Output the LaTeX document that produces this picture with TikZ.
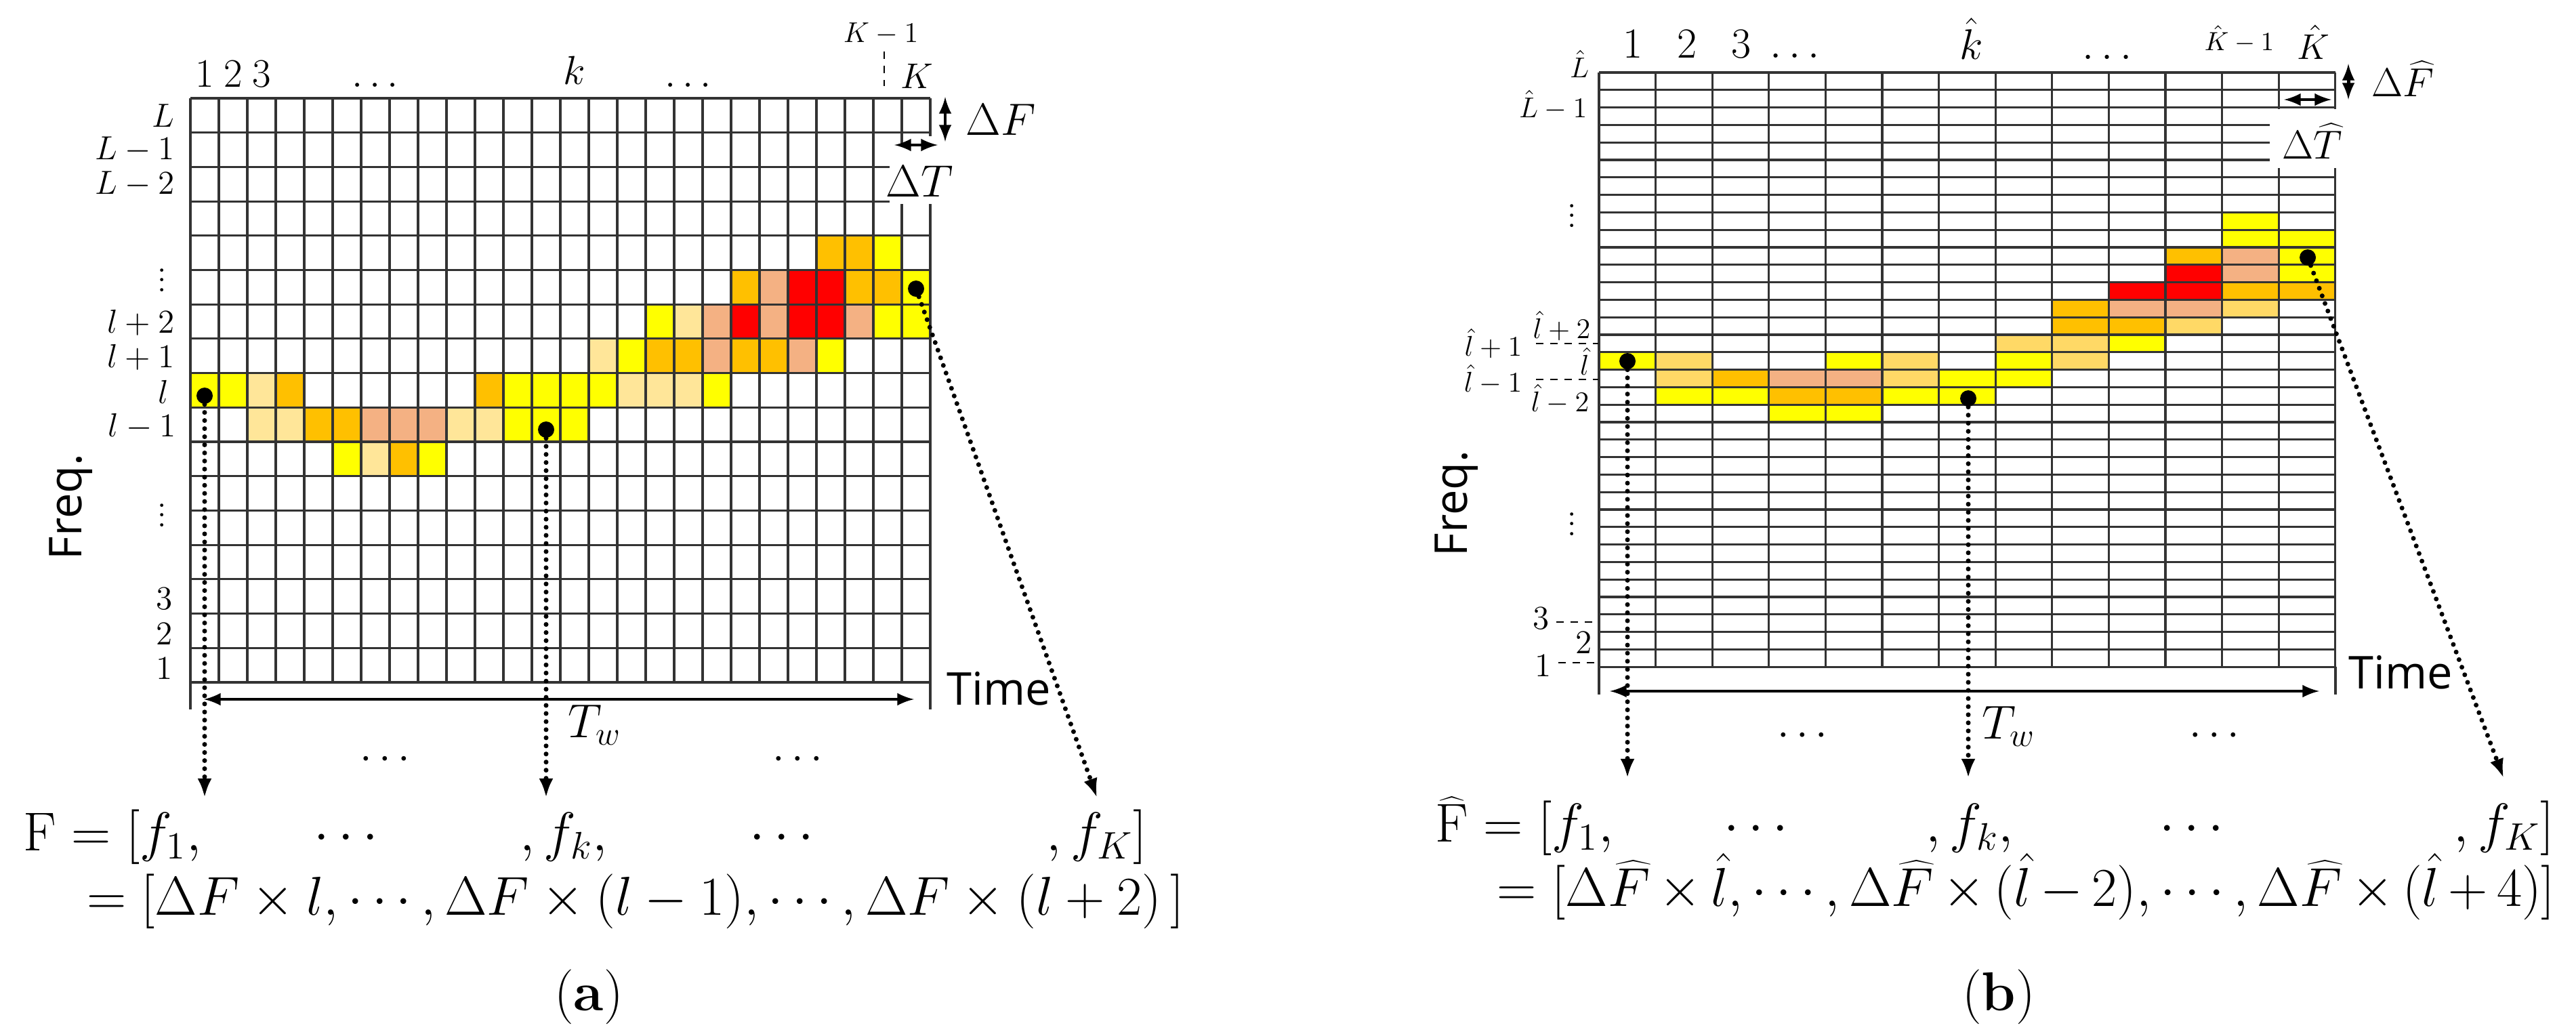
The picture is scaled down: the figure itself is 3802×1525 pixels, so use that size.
\IfFileExists{fix-cm.sty}{\RequirePackage{fix-cm}}{}
\documentclass[tikz,border=0pt]{standalone}
\usepackage{fontspec}
\newfontfamily\sansf{Open Sans}
\usetikzlibrary{positioning,arrows.meta}

\definecolor{cellY}{HTML}{FFFF00}
\definecolor{cellO}{HTML}{FFC000}
\definecolor{cellS}{HTML}{F4B183}
\definecolor{cellR}{HTML}{FF0000}
\definecolor{cellL}{HTML}{FFE699}
\definecolor{cellM}{HTML}{FFD966}

\tikzset{
	gridline/.style={line width=0.9pt, draw=black!80},
	dotnode/.style={circle, fill=black, inner sep=0pt, minimum size=2.4mm},
	dotarrow/.style={-{Latex[length=8pt,width=6pt]}, line width=2pt, line cap=round, dash pattern=on 0pt off 3.4pt},
	dimarrow/.style={latex-latex, line width=1.4pt},
	leader/.style={dashed, line width=0.8pt},
	toplab/.style={inner sep=0pt, anchor=base, font=\fontsize{17}{20}\selectfont},
	rowlab/.style={inner sep=0pt, anchor=east, font=\fontsize{14}{16}\selectfont},
	hrowlab/.style={inner sep=0pt, anchor=east, font=\fontsize{12}{14}\selectfont},
	axislab/.style={inner sep=0pt, font=\sansf\fontsize{19}{22}\selectfont},
	eqlab/.style={inner sep=0pt, anchor=base, font=\fontsize{23}{27}\selectfont},
}

\begin{document}
\begin{tikzpicture}[x=0.1mm, y=-0.1mm]
		\useasboundingbox (0,0) rectangle (3802,1525);
		
		%Colored cells (a)
		\foreach \cx/\ry/\clr in {23/5/cellO, 24/5/cellO, 25/5/cellY,
			20/6/cellO, 21/6/cellS, 22/6/cellR, 23/6/cellR, 24/6/cellO, 25/6/cellO, 26/6/cellY,
			17/7/cellY, 18/7/cellL, 19/7/cellS, 20/7/cellR, 21/7/cellS, 22/7/cellR, 23/7/cellR, 24/7/cellS, 25/7/cellY, 26/7/cellY,
			15/8/cellL, 16/8/cellY, 17/8/cellO, 18/8/cellO, 19/8/cellS, 20/8/cellO, 21/8/cellO, 22/8/cellS, 23/8/cellY,
			1/9/cellY, 2/9/cellY, 3/9/cellL, 4/9/cellO, 11/9/cellO, 12/9/cellY, 13/9/cellY, 14/9/cellY, 15/9/cellY, 16/9/cellL, 17/9/cellL, 18/9/cellL, 19/9/cellY,
			3/10/cellL, 4/10/cellL, 5/10/cellO, 6/10/cellO, 7/10/cellS, 8/10/cellS, 9/10/cellS, 10/10/cellL, 11/10/cellL, 12/10/cellY, 13/10/cellY, 14/10/cellY,
			6/11/cellY, 7/11/cellL, 8/11/cellO, 9/11/cellY}
		\fill[\clr] ({281+42*(\cx-1)},{145+50.7*(\ry-1)}) rectangle ++(42,50.7);
		
		%Grid (a)
		\foreach \i in {0,...,26}
		\draw[gridline] ({281+42*\i},145) -- ({281+42*\i},1007);
		\foreach \j in {0,...,17}
		\draw[gridline] (281,{145+50.7*\j}) -- (1373,{145+50.7*\j});
		\fill[white] (1313,201) rectangle (1390,301);
		\draw[gridline] (1331,198) -- (1331,214);
		\draw[gridline] (281,1007) -- (281,1047);
		\draw[gridline] (1373,1007) -- (1373,1047);
		
		%Top and row labels (a)
		\node[toplab] (ca1) at (302,128) {1};
		\node[toplab] (ca2) at (344,128) {2};
		\node[toplab] (ca3) at (386,128) {3};
		\node[toplab] (cadots1) at (554,128) {$\ldots$};
		\node[toplab] (cak) at (848,124) {$k$};
		\node[toplab] (cadots2) at (1016,128) {$\ldots$};
		\node[toplab, font=\fontsize{12}{14}\selectfont] (caKm1) at (1300,62) {$K-1$};
		\node[toplab, font=\fontsize{15}{18}\selectfont] (caK) at (1353,130) {$K$};
		\coordinate (caKm1-g) at (1305,127);
		\draw[leader, shorten <=1mm] (caKm1.south -| caKm1-g) -- (caKm1-g);
		
		\node[rowlab] (raL) at (258,171) {$L$};
		\node[rowlab] (raLm1) at (258,221) {$L-1$};
		\node[rowlab] (raLm2) at (258,272) {$L-2$};
		\node[rowlab, anchor=center] (radots1) at (239,403) {$\vdots$};
		\node[rowlab] (ralp2) at (258,476) {$l+2$};
		\node[rowlab] (ralp1) at (258,527) {$l+1$};
		\node[rowlab] (ral) at (250,578) {$l$};
		\node[rowlab] (ralm1) at (260,629) {$l-1$};
		\node[rowlab, anchor=center] (radots2) at (239,750) {$\vdots$};
		\node[rowlab] (ra3) at (255,884) {3};
		\node[rowlab] (ra2) at (255,935) {2};
		\node[rowlab] (ra1) at (255,986) {1};
		
		%Cell size (a)
		\node[anchor=west, inner sep=0pt, font=\fontsize{19}{22}\selectfont] (dFa) at (1425,177) {$\Delta F$};
		\coordinate (dFa-t) at (1395,143);
		\coordinate (dFa-b) at (1395,209);
		\draw[dimarrow] (dFa-t) -- (dFa-b);
		\node[inner sep=0pt, font=\fontsize{19}{22}\selectfont] (dTa) at (1357,268) {$\Delta T$};
		\coordinate (dTa-l) at (1320,214);
		\coordinate (dTa-r) at (1384,214);
		\draw[dimarrow] (dTa-l) -- (dTa-r);
		
		%Axes (a)
		\node[axislab, rotate=90] (freqa) at (105,748) {Freq.};
		\node[axislab, anchor=west] (timea) at (1397,1016) {Time};
		\coordinate (twa-l) at (301,1032);
		\coordinate (twa-r) at (1349,1032);
		\draw[dimarrow] (twa-l) -- (twa-r);
		\node[anchor=north west, inner sep=0pt, font=\fontsize{20}{24}\selectfont] (twa) at (838,1040) {$T_w$};
		\node[font=\fontsize{18}{20}\selectfont] (ba-dots1) at (568,1121) {$\cdots$};
		\node[font=\fontsize{18}{20}\selectfont] (ba-dots2) at (1177,1121) {$\cdots$};
		
		%Peaks (a)
		\node[dotnode] (fa1) at (302,584) {};
		\node[dotnode] (fa2) at (806,634) {};
		\node[dotnode] (fa3) at (1352,426) {};
		\coordinate (ea1) at (302,1177);
		\coordinate (ea2) at (806,1177);
		\coordinate (ea3) at (1619,1177);
		\draw[dotarrow] (fa1) -- (ea1);
		\draw[dotarrow] (fa2) -- (ea2);
		\draw[dotarrow] (fa3) -- (ea3);
		
		%Frequency vector (a)
		\node[eqlab, anchor=base west] (Fa) at (34,1255) {$\mathrm{F}=[f_1,$};
		\node[eqlab] (Fa-d1) at (511,1255) {$\cdots$};
		\node[eqlab] (Fa-k) at (832,1255) {$,f_k,$};
		\node[eqlab] (Fa-d2) at (1154,1255) {$\cdots$};
		\node[eqlab, anchor=base east] (Fa-K) at (1693,1255) {$,f_K]$};
		\node[eqlab, anchor=base west] (Fa-2) at (105,1350) {${}=\big[\Delta F\times l,\cdots,\Delta F\times(l-1),\cdots,\Delta F\times(l+2)\,\big]$};
		\node[font=\fontsize{23}{27}\selectfont] (capa) at (869,1471) {(\textbf{a})};
		
		%Colored cells (b)
		\foreach \cx/\ry/\clr in {12/9/cellY, 12/10/cellY, 13/10/cellY,
			11/11/cellO, 12/11/cellS, 13/11/cellY,
			11/12/cellR, 12/12/cellS, 13/12/cellY,
			10/13/cellR, 11/13/cellR, 12/13/cellO, 13/13/cellO,
			9/14/cellO, 10/14/cellS, 11/14/cellS, 12/14/cellM,
			9/15/cellO, 10/15/cellO, 11/15/cellM,
			8/16/cellM, 9/16/cellM, 10/16/cellY,
			1/17/cellY, 2/17/cellM, 5/17/cellY, 6/17/cellM, 8/17/cellY, 9/17/cellM,
			2/18/cellM, 3/18/cellO, 4/18/cellS, 5/18/cellS, 6/18/cellM, 7/18/cellY, 8/18/cellY,
			2/19/cellY, 3/19/cellY, 4/19/cellO, 5/19/cellO, 6/19/cellY, 7/19/cellY,
			4/20/cellY, 5/20/cellY}
		\fill[\clr] ({2360+83.6*(\cx-1)},{107+25.8*(\ry-1)}) rectangle ++(83.6,25.8);
		
		%Grid (b)
		\foreach \i in {0,...,13}
		\draw[gridline] ({2360+83.6*\i},107) -- ({2360+83.6*\i},984);
		\foreach \j in {0,...,34}
		\draw[gridline] (2360,{107+25.8*\j}) -- (3447,{107+25.8*\j});
		\fill[white] (3350,161) rectangle (3460,248);
		\draw[gridline] (2360,984) -- (2360,1025);
		\draw[gridline] (3447,984) -- (3447,1025);
		
		%Top and row labels (b)
		\node[toplab, font=\fontsize{18}{21}\selectfont] (cb1) at (2410,85) {1};
		\node[toplab, font=\fontsize{18}{21}\selectfont] (cb2) at (2490,85) {2};
		\node[toplab, font=\fontsize{18}{21}\selectfont] (cb3) at (2570,85) {3};
		\node[toplab, font=\fontsize{18}{21}\selectfont] (cbdots1) at (2649,85) {$\ldots$};
		\node[toplab, font=\fontsize{18}{21}\selectfont] (cbk) at (2910,87) {$\hat{k}$};
		\node[toplab, font=\fontsize{18}{21}\selectfont] (cbdots2) at (3110,87) {$\ldots$};
		\node[toplab, font=\fontsize{11}{13}\selectfont] (cbKm1) at (3305,74) {$\hat{K}-1$};
		\node[toplab, font=\fontsize{15}{18}\selectfont] (cbK) at (3414,87) {$\hat{K}$};
		
		\node[hrowlab, anchor=base east] (rbL) at (2346,114) {$\hat{L}$};
		\node[hrowlab] (rbLm1) at (2343,155) {$\hat{L}-1$};
		\node[rowlab, anchor=center] (rbdots1) at (2320,308) {$\vdots$};
		\node[hrowlab] (rblp2) at (2348,481) {$\hat{l}+2$};
		\node[hrowlab] (rblp1) at (2247,507) {$\hat{l}+1$};
		\node[hrowlab] (rbl) at (2346,533) {$\hat{l}$};
		\node[hrowlab] (rblm1) at (2247,560) {$\hat{l}-1$};
		\node[hrowlab] (rblm2) at (2346,589) {$\hat{l}-2$};
		\node[rowlab, anchor=center] (rbdots2) at (2320,763) {$\vdots$};
		\node[rowlab] (rb3) at (2287,913) {3};
		\node[rowlab] (rb2) at (2350,948) {2};
		\node[rowlab] (rb1) at (2290,982) {1};
		\coordinate (rblp1-g) at (2359,507);
		\coordinate (rblm1-g) at (2359,560);
		\coordinate (rb3-g) at (2359,918);
		\coordinate (rb1-g) at (2359,978);
		\draw[leader, shorten <=2mm] (rblp1.east) -- (rblp1-g);
		\draw[leader, shorten <=2mm] (rblm1.east) -- (rblm1-g);
		\draw[leader, shorten <=1mm] (rb3.east |- rb3-g) -- (rb3-g);
		\draw[leader, shorten <=1mm] (rb1.east |- rb1-g) -- (rb1-g);
		
		%Cell size (b)
		\node[anchor=west, inner sep=0pt, font=\fontsize{17}{20}\selectfont] (dFb) at (3500,116) {$\Delta\widehat{F}$};
		\coordinate (dFb-t) at (3466,94);
		\coordinate (dFb-b) at (3466,147);
		\draw[dimarrow] (dFb-t) -- (dFb-b);
		\node[inner sep=0pt, font=\fontsize{17}{20}\selectfont] (dTb) at (3413,208) {$\Delta\widehat{T}$};
		\coordinate (dTb-l) at (3371,147);
		\coordinate (dTb-r) at (3441,147);
		\draw[dimarrow] (dTb-l) -- (dTb-r);
		
		%Axes (b)
		\node[axislab, rotate=90] (freqb) at (2150,743) {Freq.};
		\node[axislab, anchor=west] (timeb) at (3466,992) {Time};
		\coordinate (twb-l) at (2376,1020);
		\coordinate (twb-r) at (3423,1020);
		\draw[dimarrow] (twb-l) -- (twb-r);
		\node[anchor=north west, inner sep=0pt, font=\fontsize{20}{24}\selectfont] (twb) at (2925,1042) {$T_w$};
		\node[font=\fontsize{18}{20}\selectfont] (bb-dots1) at (2660,1086) {$\cdots$};
		\node[font=\fontsize{18}{20}\selectfont] (bb-dots2) at (3268,1086) {$\cdots$};
		
		%Peaks (b)
		\node[dotnode] (fb1) at (2402,533) {};
		\node[dotnode] (fb2) at (2905,588) {};
		\node[dotnode] (fb3) at (3406,380) {};
		\coordinate (eb1) at (2402,1148);
		\coordinate (eb2) at (2905,1148);
		\coordinate (eb3) at (3695,1148);
		\draw[dotarrow] (fb1) -- (eb1);
		\draw[dotarrow] (fb2) -- (eb2);
		\draw[dotarrow] (fb3) -- (eb3);
		
		%Frequency vector (b)
		\node[eqlab, anchor=base west] (Fb) at (2118,1242) {$\widehat{\mathrm{F}}=[f_1,$};
		\node[eqlab] (Fb-d1) at (2592,1242) {$\cdots$};
		\node[eqlab] (Fb-k) at (2907,1242) {$,f_k,$};
		\node[eqlab] (Fb-d2) at (3235,1242) {$\cdots$};
		\node[eqlab, anchor=base east] (Fb-K) at (3770,1242) {$,f_K]$};
		\node[eqlab, anchor=base east] (Fb-2) at (3772,1337) {\medmuskip=3mu ${}=\big[\Delta\widehat{F}\times\hat{l},\cdots,\Delta\widehat{F}\times(\hat{l}-2),\cdots,\Delta\widehat{F}\times(\hat{l}+4)\big]$};
		\node[font=\fontsize{23}{27}\selectfont] (capb) at (2950,1471) {(\textbf{b})};
		
\end{tikzpicture}
\end{document}
